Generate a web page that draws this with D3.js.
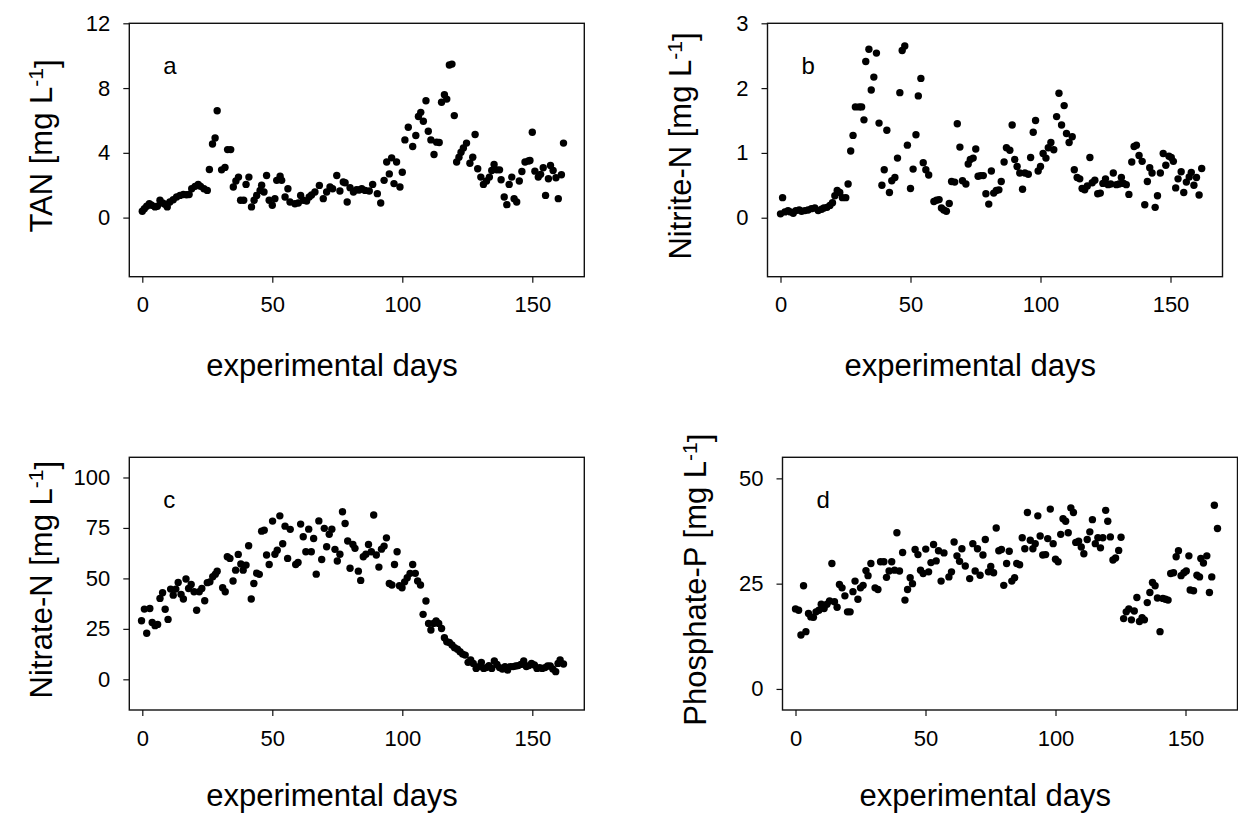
<!DOCTYPE html>
<html><head><meta charset="utf-8">
<script src="https://cdn.jsdelivr.net/npm/d3@7"></script>
<style>
body{margin:0;background:#fff;}
svg{display:block;font-family:"Liberation Sans",Arial,Helvetica,sans-serif;}
</style></head>
<body><svg id="chart" width="1238" height="814"></svg>
<script>
const xTicks = [0, 50, 100, 150];
const tanTicks = [0, 4, 8, 12];
const nitriteTicks = [0, 1, 2, 3];
const nitrateTicks = [0, 25, 50, 75, 100];
const phosphateTicks = [0, 25, 50];

const tanData = [[0,0.39],[0.8,0.55],[1.7,0.7],[2.7,0.86],[3.6,0.76],[4.9,0.66],[5.8,0.7],[6.8,1.07],[7.8,0.9],[8.7,0.82],[9.6,0.66],[10.6,0.96],[11.9,1.1],[13.2,1.27],[14.5,1.37],[15.8,1.43],[17,1.41],[18,1.43],[19,1.78],[20.3,1.93],[21.5,2.05],[22.4,1.93],[23.7,1.78],[25,1.68],[25.8,2.97],[27,4.55],[28,4.92],[28.8,6.6],[30.5,2.95],[31.8,3.1],[32.8,4.2],[34,4.2],[35,1.89],[36,2.26],[37,2.5],[37.8,1.07],[39,1.07],[39.9,2.05],[41,2.5],[42,0.66],[43,1.07],[44,1.37],[45.3,1.68],[45.9,2.0],[46.8,1.58],[47.8,2.6],[48.8,1.07],[50,0.76],[51,1.17],[51.7,2.3],[53,2.56],[53.6,2.3],[54.9,1.27],[56,1.78],[56.8,0.96],[58.7,0.86],[60,0.9],[60.9,1.37],[61.9,1.07],[63.2,1.02],[64.2,1.27],[65.1,1.4],[66.4,1.58],[68.1,1.99],[69.6,1.17],[70.9,1.58],[72.2,1.89],[73.2,1.78],[74.8,2.6],[76,1.64],[77.3,2.2],[78,2.15],[78.8,0.96],[79.9,1.85],[81.2,1.58],[82.4,1.72],[83.4,1.7],[84.4,1.78],[85.7,1.68],[87.3,1.64],[88.6,2.05],[90.4,1.48],[91.7,0.9],[93,2.3],[94,3.43],[95,2.7],[95.9,3.69],[96.8,2.1],[97.8,3.43],[99.1,1.89],[100,2.8],[101,4.8],[102.3,5.58],[104,4.39],[105.2,5.07],[106.2,6.24],[107.1,6.5],[108.1,5.95],[109.1,7.22],[110,5.33],[111,4.8],[112.2,3.9],[113.2,4.66],[114.2,4.64],[115.1,7.12],[116.2,7.59],[117.1,7.32],[118.1,9.42],[119.1,9.48],[120,6.3],[120.9,3.43],[121.8,3.73],[122.6,4.04],[123.5,4.3],[124.7,4.6],[126,3.36],[127.1,3.73],[128,5.13],[129,3.02],[130.2,2.5],[131.2,2.05],[132.4,2.26],[133.5,2.5],[134.4,2.91],[135.3,3.28],[136.3,2.95],[137.4,2.95],[138,2.34],[139.2,1.27],[140.2,0.8],[141.1,2.05],[142.1,2.5],[143,1.17],[144,0.96],[145,2.26],[146,2.85],[147.2,3.43],[148.5,3.5],[149.1,3.53],[150,5.27],[151,2.87],[152.3,2.5],[153.2,2.67],[154.2,3.08],[155.1,1.37],[156.2,2.4],[157,3.22],[158,2.91],[159.1,2.46],[160,1.17],[161.2,2.65],[162,4.6]];

const nitriteData = [[0,0.06],[0.8,0.31],[1.7,0.09],[2.9,0.11],[3.8,0.09],[4.9,0.07],[5.9,0.11],[7.2,0.12],[8.1,0.1],[9.4,0.11],[10.6,0.12],[11.9,0.14],[13.2,0.15],[14.5,0.11],[15.8,0.13],[16.7,0.15],[17.9,0.16],[19,0.19],[20,0.23],[20.9,0.34],[21.8,0.42],[22.8,0.39],[23.8,0.31],[25.1,0.31],[26,0.52],[27,1.03],[27.9,1.27],[28.8,1.71],[30.3,1.71],[31.2,1.71],[32.1,1.51],[32.8,2.41],[34,2.6],[34.9,1.97],[35.9,2.17],[36.9,2.54],[37.9,1.46],[39,0.5],[39.9,0.74],[40.9,1.35],[41.9,0.39],[42.8,0.57],[44,0.62],[45,0.92],[45.9,1.93],[46.8,2.58],[47.8,2.65],[48.8,1.12],[50,0.45],[51,0.75],[52.1,1.28],[53,1.88],[54,2.15],[54.9,0.85],[55.9,0.74],[57,0.66],[59,0.25],[60,0.27],[61,0.28],[61.9,0.15],[62.8,0.12],[63.8,0.1],[64.9,0.22],[65.8,0.56],[67,0.55],[68,1.45],[69,1.09],[70,0.57],[71.3,0.52],[72.2,0.83],[73,0.9],[74.1,0.92],[75.1,1.06],[76,0.64],[77,0.65],[78,0.65],[79,0.37],[80.1,0.21],[81.1,0.72],[82,0.38],[83,0.42],[84,0.43],[84.9,0.56],[86,0.86],[86.9,1.08],[88.2,1.04],[89.1,1.43],[90.1,0.9],[91,0.79],[92,0.69],[93.1,0.44],[94,0.69],[95.3,0.67],[96.2,0.93],[97.2,1.32],[98.1,1.5],[99.1,0.72],[100,0.79],[101,0.99],[102.1,0.92],[103,1.08],[104,1.16],[105.1,1.05],[106.2,1.56],[107.1,1.92],[108.1,1.43],[109.1,1.73],[110,1.3],[111,1.16],[112.2,1.25],[113,0.74],[114.1,0.62],[115.1,0.6],[116,0.45],[117,0.43],[118,0.49],[119,0.93],[119.9,0.54],[120.9,0.58],[122,0.37],[123,0.38],[124,0.53],[125,0.6],[126,0.51],[127,0.52],[128,0.69],[129.2,0.51],[130.2,0.52],[131.1,0.62],[132,0.53],[133,0.51],[134,0.36],[135.1,0.86],[136,1.1],[136.9,1.12],[137.9,0.96],[139.1,0.87],[140.1,0.2],[141.1,0.56],[142,0.77],[142.9,0.69],[144.1,0.16],[145,0.34],[146.1,0.69],[147.2,0.99],[148.2,0.81],[149.4,0.95],[150.3,0.93],[151.1,0.87],[152,0.46],[152.9,0.6],[154.1,0.71],[155.1,0.39],[156.1,0.55],[157.2,0.63],[158,0.7],[159,0.5],[160,0.62],[161,0.35],[162,0.76]];

const nitrateData = [[-0.3,29],[0.8,34.8],[1.7,22.8],[2.9,35.1],[3.8,28.2],[4.9,26.6],[5.9,27.2],[6.8,40.1],[7.8,42.9],[8.8,34.7],[9.9,29.7],[10.9,44.7],[11.9,41.7],[12.9,44.7],[13.8,48],[14.9,42.1],[15.8,39.8],[16.8,49.7],[17.8,45],[18.8,47],[19.9,43.4],[20.9,34.2],[21.9,43.4],[22.9,45],[24,38.9],[25,47.9],[26,48.3],[27.1,50.8],[28.1,52.1],[28.8,53.6],[30.9,45.4],[31.9,43.4],[32.7,60.7],[33.7,59.9],[34.9,48.7],[35.9,54.1],[36.9,61.9],[37.9,57.1],[38.8,54.1],[39.9,56.6],[40.9,66.2],[41.9,39.8],[42.9,47.5],[44,52.6],[45,52],[45.9,73.4],[46.9,73.9],[47.8,61.6],[48.8,56.9],[50.1,78.4],[51,62],[51.9,64],[52.9,81],[54,67.2],[54.9,75.9],[55.9,59.9],[56.9,74.3],[59,56.9],[59.9,57.9],[60.9,76.9],[61.9,70.6],[62.9,63.2],[64,74.4],[65,63.2],[65.9,69.8],[66.9,52.1],[67.9,78.5],[69,59.4],[70,74.8],[70.9,65.7],[71.9,71.9],[72.9,74.4],[74.1,64.4],[75,58.6],[76,62],[77,83],[78,77.2],[79,68.5],[79.9,55],[81,66.8],[81.8,64.9],[83.1,53.6],[84,49],[85,60.7],[86,62],[87,66.8],[88.1,63.2],[89,81.4],[90,61.6],[91,55.6],[92,64.5],[93,66],[93.9,70.1],[95,47.5],[96,46.7],[97,56.9],[98,63.2],[98.9,46.4],[99.9,45.4],[100.9,48.3],[101.9,50.3],[103,52.5],[104,56.9],[105,52.5],[105.9,48.7],[107,46.7],[108,32.2],[109.1,38.8],[110.1,27.7],[111,24.4],[112,27.7],[113,28.9],[114,27.7],[115.1,25.2],[116.2,20.6],[117.1,18.6],[118.1,18.3],[119.1,17],[120.1,15.7],[121.2,14.9],[122.2,13.7],[123.2,12.5],[124.2,12],[125.3,8.4],[126.3,9.6],[127.3,7.9],[128.4,5.4],[129.4,6.3],[130.4,8.4],[131.3,5.4],[132.3,5.8],[133.3,6.8],[134.4,5.4],[135.4,9.1],[136.4,7.4],[137.4,5.8],[138.5,5.1],[139.5,6.3],[140.5,4.6],[141.5,6.3],[142.6,6.3],[143.6,6.6],[144.6,6.8],[145.6,7.4],[146.7,9.1],[147.7,6.3],[148.7,6.8],[149.7,7.9],[150.8,7.1],[151.8,5.4],[152.8,5.8],[153.8,5.4],[154.9,5.8],[155.9,6.6],[156.9,6.6],[157.9,5.1],[159,3.8],[159.9,7.9],[160.7,9.6],[162,7.6]];

const phosphateData = [[0,19],[1.2,18.7],[2.1,12.8],[3.1,24.5],[4,13.6],[5,17.9],[5.9,17.1],[6.9,17],[7.9,18.3],[9,18.7],[9.9,20.1],[11,19.1],[12.1,20.1],[13.1,20.9],[14,29.8],[15,20.7],[16,19.4],[16.9,24.8],[17.9,24],[19,22.1],[20,18.3],[21,18.3],[22.1,23.1],[22.9,25.6],[24,21.3],[25,24],[26,24.6],[27.1,28.1],[27.9,26.9],[29,29.8],[30.6,24],[31.7,23.6],[32.7,30.2],[34,30.2],[35,26.5],[36,28],[37,30.2],[38.1,28.2],[39,37.1],[40,28],[41.2,32.4],[42.1,21.1],[43.1,23.6],[44.1,26.4],[45,25],[46,33.1],[47.1,31.9],[48.1,28.2],[49.1,27.4],[50.1,33.2],[51.2,27.8],[52.1,30],[53.1,34.3],[54.1,30.4],[55,32.8],[56,25.6],[57.1,32.3],[59,26.6],[60,27.8],[61,34.9],[62.1,31.6],[63.1,30.3],[64,33.3],[65.3,29.2],[67,26.2],[68.2,34.5],[69.1,28],[70,33.3],[71,27],[72.1,31.8],[73,35.5],[74.2,27.8],[75.1,29.1],[76.2,27.6],[77.2,38.2],[78.2,32.8],[79.2,33.1],[80.1,24.6],[81.2,29.8],[82.2,32.7],[83.2,25.6],[84.3,26.4],[85.1,29.8],[86.2,29.5],[87.2,35.9],[88.2,33.3],[89.2,41.9],[90.3,35.3],[91.3,33.3],[92.2,34.5],[93.2,41.1],[94.1,36.3],[95.1,31.8],[96.2,31.9],[97,35.7],[98,42.7],[99.1,34.5],[100,30.8],[101,30.2],[102,36.7],[102.9,40.4],[103.9,39.8],[104.9,37.1],[105.9,43],[106.9,41.9],[107.8,34.8],[108.9,35.1],[109.9,33.7],[110.9,32.1],[112.2,35.5],[113.2,37.3],[114.2,40.2],[115.3,34.5],[116.3,35.9],[117.3,33.5],[118.2,35.9],[119.3,42.4],[120.1,39.8],[121.1,36.1],[122.1,30.6],[123.1,31.1],[124.3,32.9],[125.2,36],[126.2,16.7],[127.2,18.3],[128.2,19],[129.2,16.4],[130.3,18.5],[131.3,21.7],[132.3,16],[133.3,16.9],[134.2,16.4],[135.3,20.5],[136.3,22.9],[137.3,25.3],[138.3,24.5],[139.2,21.6],[140.2,13.6],[141.3,21.5],[142.3,21.3],[143.3,21.1],[144.3,27.4],[145.4,27.6],[146.4,31.4],[147.3,32.8],[148.3,26.9],[149.4,27.6],[150.3,28],[151.3,31.6],[151.8,23.5],[153.1,23.3],[154.4,27],[155.4,26.6],[155.9,31],[156.9,29.9],[158.2,31.6],[159.2,22.9],[160.1,26.6],[161.1,43.6],[162.3,38.1]];

const xDomain = [-5, 170];
const xTitle = "experimental days";

const panels = [
  {data: tanData, ticks: tanTicks, ydom: [-3.65, 12], label: "TAN", letter: "a", left: 129.3, top: 23.3, w: 455, h: 253.4},
  {data: nitriteData, ticks: nitriteTicks, ydom: [-0.91, 3], label: "Nitrite-N", letter: "b", left: 767.5, top: 23.3, w: 455, h: 253.4},
  {data: nitrateData, ticks: nitrateTicks, ydom: [-15.2, 110], label: "Nitrate-N", letter: "c", left: 129.3, top: 457.3, w: 455, h: 252.7},
  {data: phosphateData, ticks: phosphateTicks, ydom: [-5, 55], label: "Phosphate-P", letter: "d", left: 782.5, top: 457.3, w: 455, h: 252.7}
];

const svg = d3.select("#chart");
const H = 814;

panels.forEach(p => {
  const g = svg.append("g").attr("transform", `translate(${p.left},${p.top})`);
  const x = d3.scaleLinear().domain(xDomain).range([0, p.w]);
  const y = d3.scaleLinear().domain(p.ydom).range([p.h, 0]);

  const xa = g.append("g").attr("transform", `translate(0,${p.h})`)
    .call(d3.axisBottom(x).tickValues(xTicks).tickSize(6).tickPadding(14).tickFormat(d3.format("d")));
  const ya = g.append("g")
    .call(d3.axisLeft(y).tickValues(p.ticks).tickSize(6).tickPadding(13).tickFormat(d3.format("d")));
  [xa, ya].forEach(a => {
    a.select(".domain").remove();
    a.selectAll(".tick line").attr("stroke", "#111").attr("stroke-width", 1.2);
    a.selectAll(".tick text").attr("fill", "#000").style("font-size", "22px")
      .style("font-family", '"Liberation Sans",Arial,sans-serif');
  });

  g.append("rect").attr("x", 0).attr("y", 0).attr("width", p.w).attr("height", p.h)
    .attr("fill", "none").attr("stroke", "#111").attr("stroke-width", 1.4);

  g.selectAll("circle.pt").data(p.data).join("circle").attr("class", "pt")
    .attr("cx", d => x(d[0])).attr("cy", d => y(d[1])).attr("r", 3.7).attr("fill", "#000");

  g.append("text").attr("x", 34).attr("y", 51).style("font-size", "24px").attr("fill", "#000").text(p.letter);

  const titleY = Math.min(p.h + 99.5, H - p.top - 7.5);
  g.append("text").attr("x", x(73)).attr("y", titleY).attr("text-anchor", "middle")
    .style("font-size", "31px").attr("fill", "#000").text(xTitle);

  const yt = g.append("text").attr("transform", `translate(-77,${p.h / 2 - 4}) rotate(-90)`)
    .attr("text-anchor", "middle").style("font-size", "31px").attr("fill", "#000");
  yt.append("tspan").text(p.label + " [mg L");
  yt.append("tspan").attr("dy", "-0.42em").style("font-size", "21px").text("-1");
  yt.append("tspan").attr("dy", "0.42em").text("]");
});
</script></body></html>
